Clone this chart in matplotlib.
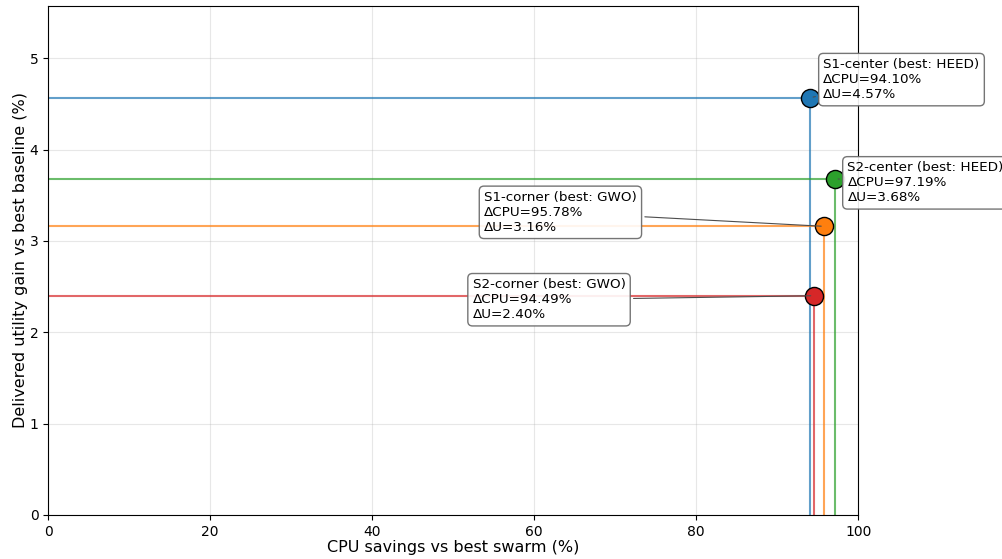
import matplotlib
matplotlib.use("Agg")
import matplotlib.pyplot as plt

# scenario results
names = ["S1-center", "S1-corner", "S2-center", "S2-corner"]
best = ["HEED", "GWO", "HEED", "GWO"]
cpu_savings = [94.10, 95.78, 97.19, 94.49]
utility_gain = [4.57, 3.16, 3.68, 2.40]
colors = ["tab:blue", "tab:orange", "tab:green", "tab:red"]
# label offsets in pixels (dx, dy)
label_offsets = [(13, 18), (-340, 14), (12, -4), (-341, -4)]

fig = plt.figure(figsize=(10.03, 5.59), dpi=100)
ax = fig.add_axes([0.048, 0.079, 0.8076, 0.9106])

for name, b, x, y, c, off in zip(names, best, cpu_savings, utility_gain, colors, label_offsets):
    ax.plot([0, x], [y, y], color=c, lw=1.5, alpha=0.7, zorder=2)
    ax.plot([x, x], [0, y], color=c, lw=1.5, alpha=0.7, zorder=2)
    ax.scatter([x], [y], s=170, color=c, edgecolor="black", linewidth=1, zorder=4)
    ax.annotate(f"{name} (best: {b})\n\u0394CPU={x:.2f}%\n\u0394U={y:.2f}%",
                xy=(x, y), xytext=off, textcoords="offset pixels",
                ha="left", va="center", fontsize=9.7,
                bbox=dict(boxstyle="round,pad=0.35", fc="white", ec="0.4", alpha=0.9),
                arrowprops=dict(arrowstyle="-", color="0.3", lw=0.8),
                annotation_clip=False, zorder=5)

ax.set_xlim(0, 100)
ax.set_ylim(0, max(utility_gain) * 1.22)
ax.grid(True, alpha=0.3)
ax.set_xlabel("CPU savings vs best swarm (%)", fontsize=11.5, labelpad=1)
ax.set_ylabel("Delivered utility gain vs best baseline (%)", fontsize=11.5, labelpad=1)

fig.savefig("out.png", dpi=100)
